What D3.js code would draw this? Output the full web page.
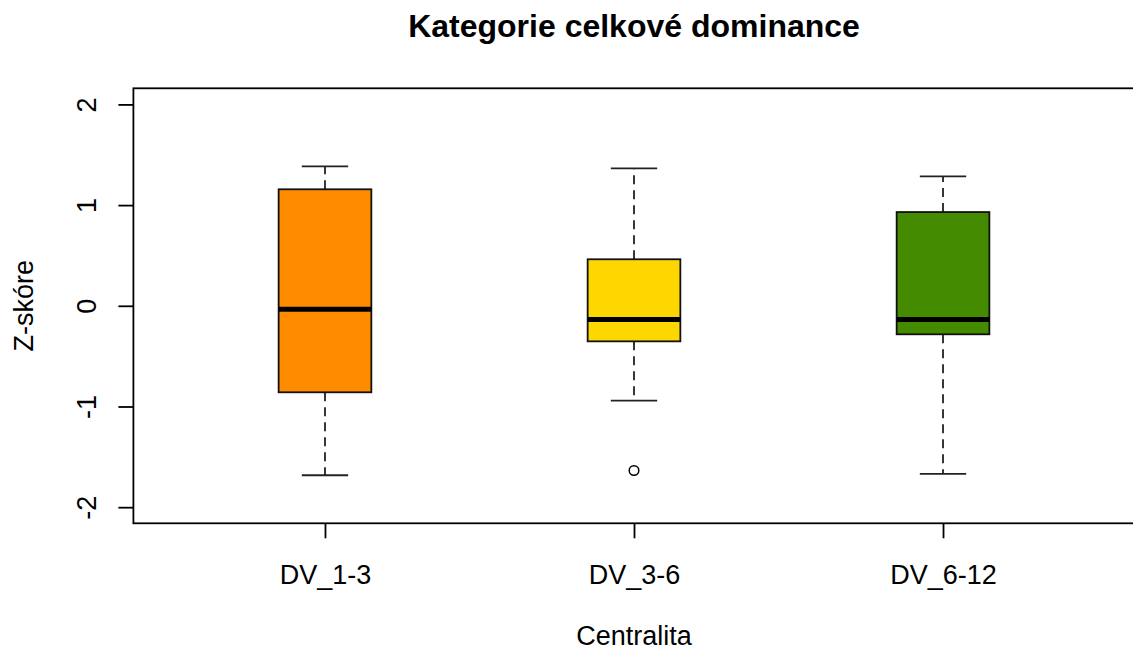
<!DOCTYPE html>
<html><head><meta charset="utf-8">
<script src="https://cdn.jsdelivr.net/npm/d3@7"></script>
<style>body{margin:0;background:#fff}svg{display:block}text{font-family:"Liberation Sans",Arial,sans-serif;fill:#000}</style>
</head><body><svg id="c" width="1133" height="650"></svg>
<script>
const categories = ["DV_1-3", "DV_3-6", "DV_6-12"];
const lowerWhisker = [-1.683, -0.941, -1.670];
const q1 = [-0.859, -0.353, -0.283];
const median = [-0.035, -0.137, -0.137];
const q3 = [1.157, 0.462, 0.931];
const upperWhisker = [1.385, 1.365, 1.286];
const outliers = [[], [-1.636], []];
const colors = ["#FF8C00", "#FFD700", "#458B00"];
const yTicks = [-2, -1, 0, 1, 2];

const svg = d3.select("#c");
const x = d3.scaleLinear().domain([0.38, 3.62]).range([133.4, 1134.6]);
const y = d3.scaleLinear().domain([-2.16, 2.16]).range([523.3, 88.3]);
const boxW = 0.3, capW = 0.15;

// plot frame
svg.append("rect").attr("x", x(0.38)).attr("y", y(2.16))
  .attr("width", x(3.62) - x(0.38)).attr("height", y(-2.16) - y(2.16))
  .attr("fill", "none").attr("stroke", "#000").attr("stroke-width", 1.8);

const data = categories.map((c, i) => ({c, i: i + 1, lo: lowerWhisker[i], q1: q1[i], med: median[i], q3: q3[i], hi: upperWhisker[i], out: outliers[i], col: colors[i]}));

const g = svg.append("g");
data.forEach(d => {
  const cx = x(d.i);
  [[d.q3, d.hi], [d.q1, d.lo]].forEach(([a, b]) => {
    g.append("line").attr("x1", cx).attr("x2", cx).attr("y1", y(a)).attr("y2", y(b))
      .attr("stroke", "#222").attr("stroke-width", 1.8).attr("stroke-dasharray", "9,6");
    g.append("line").attr("x1", x(d.i - capW / 2)).attr("x2", x(d.i + capW / 2))
      .attr("y1", y(b)).attr("y2", y(b)).attr("stroke", "#222").attr("stroke-width", 1.8);
  });
  g.append("rect").attr("x", x(d.i - boxW / 2)).attr("y", y(d.q3))
    .attr("width", x(d.i + boxW / 2) - x(d.i - boxW / 2)).attr("height", y(d.q1) - y(d.q3))
    .attr("fill", d.col).attr("stroke", "#111").attr("stroke-width", 1.8);
  g.append("line").attr("x1", x(d.i - boxW / 2)).attr("x2", x(d.i + boxW / 2))
    .attr("y1", y(d.med)).attr("y2", y(d.med)).attr("stroke", "#000").attr("stroke-width", 5);
  d.out.forEach(o => {
    g.append("circle").attr("cx", cx).attr("cy", y(o)).attr("r", 4.8)
      .attr("fill", "none").attr("stroke", "#000").attr("stroke-width", 1.5);
  });
});

// y axis
const ya = svg.append("g").attr("transform", `translate(${x(0.38)},0)`)
  .call(d3.axisLeft(y).tickValues(yTicks).tickSize(15).tickSizeOuter(0).tickPadding(0).tickFormat(d => String(d)));
ya.select(".domain").remove();
ya.selectAll(".tick line").attr("stroke", "#000").attr("stroke-width", 1.8);
ya.selectAll(".tick text").attr("font-size", 27).attr("text-anchor", "middle")
  .attr("transform", "translate(-47,0) rotate(-90)").attr("x", 0).attr("dy", "0.35em");

// x axis
const xa = svg.append("g").attr("transform", `translate(0,${y(-2.16)})`)
  .call(d3.axisBottom(x).tickValues([1, 2, 3]).tickSize(15).tickSizeOuter(0).tickPadding(0).tickFormat(d => categories[d - 1]));
xa.select(".domain").remove();
xa.selectAll(".tick line").attr("stroke", "#000").attr("stroke-width", 1.8);
xa.selectAll(".tick text").attr("font-size", 27).attr("y", 51).attr("dy", "0.35em");

// titles
svg.append("text").attr("x", (x(0.38) + x(3.62)) / 2).attr("y", 26).attr("dy", "0.35em")
  .attr("text-anchor", "middle").attr("font-size", 32).attr("font-weight", "bold").text("Kategorie celkové dominance");
svg.append("text").attr("x", (x(0.38) + x(3.62)) / 2).attr("y", 636).attr("dy", "0.35em")
  .attr("text-anchor", "middle").attr("font-size", 27).text("Centralita");
svg.append("text").attr("transform", `translate(24,${(y(2.16) + y(-2.16)) / 2}) rotate(-90)`).attr("dy", "0.35em")
  .attr("text-anchor", "middle").attr("font-size", 27).text("Z-skóre");
</script></body></html>
